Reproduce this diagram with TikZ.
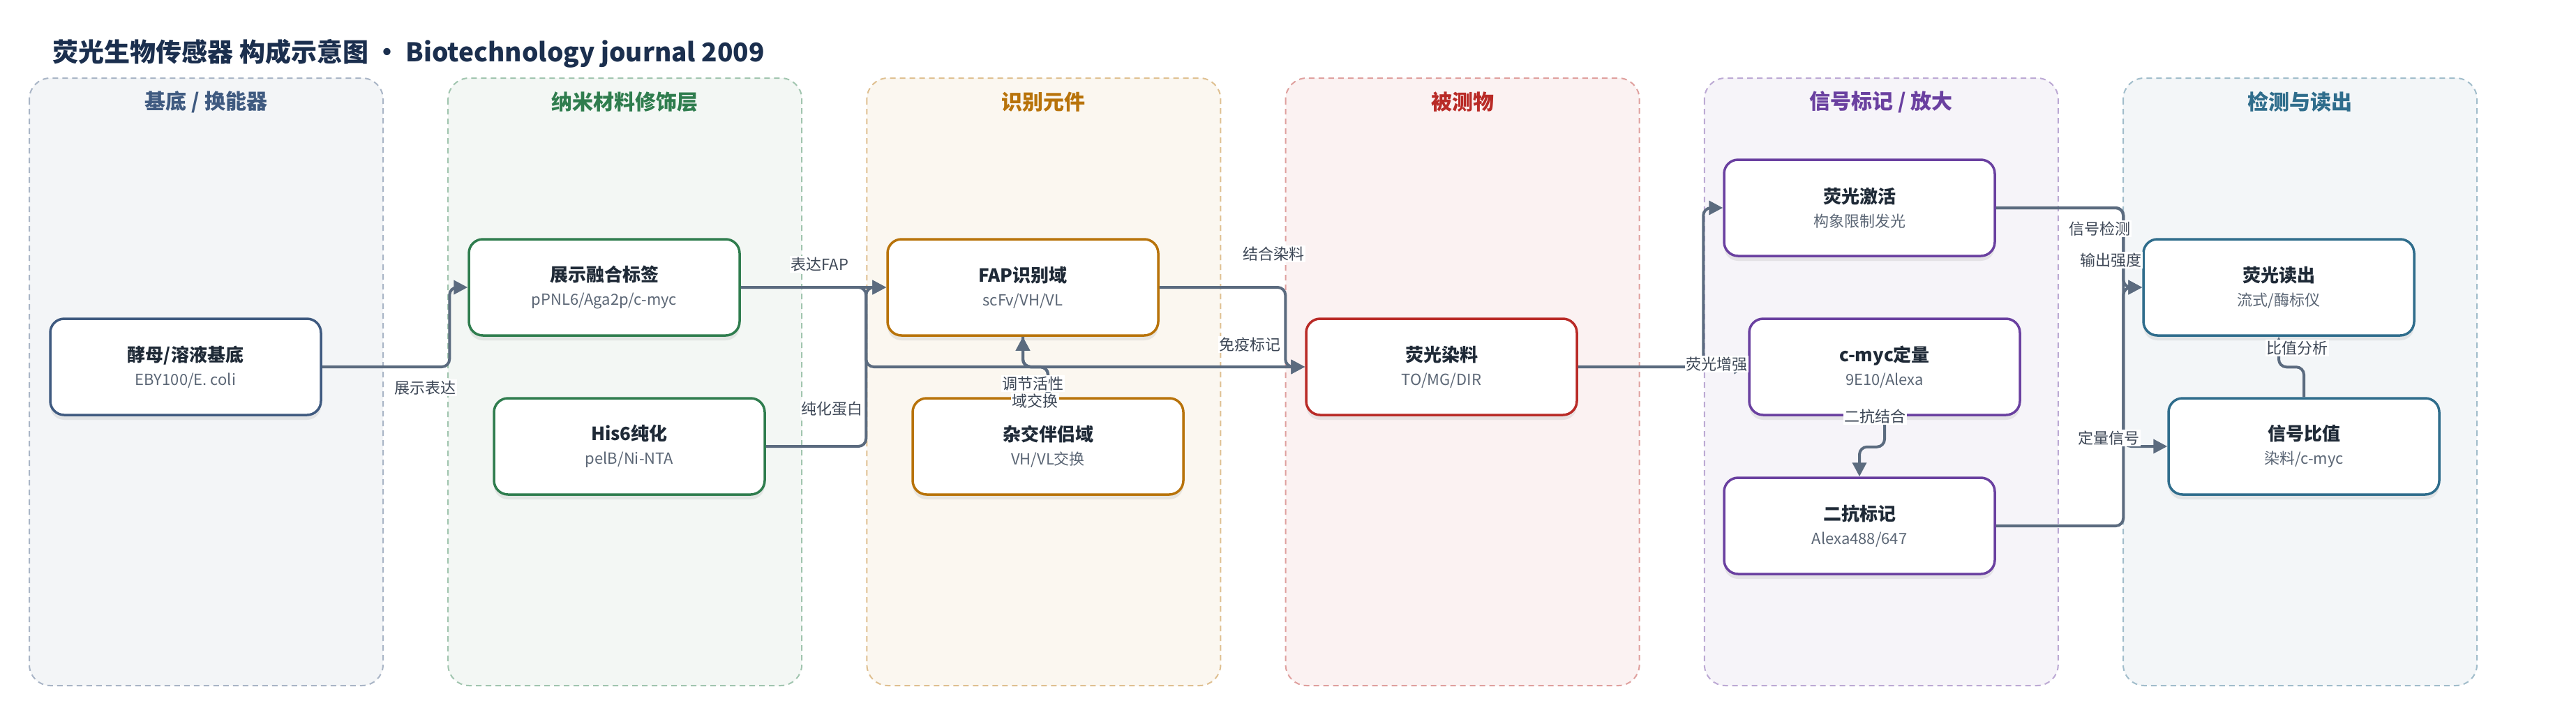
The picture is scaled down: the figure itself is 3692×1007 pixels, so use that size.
\documentclass[tikz,border=0pt]{standalone}
\usepackage{fontspec}
\setmainfont{Noto Sans CJK SC}
\usepackage{tikz}
\usetikzlibrary{positioning, arrows.meta, shadows, calc}
\definecolor{baseC}{HTML}{3F5A80}
\definecolor{nanoC}{HTML}{2F7D4E}
\definecolor{recoC}{HTML}{B8730A}
\definecolor{anaC}{HTML}{B92B27}
\definecolor{sigC}{HTML}{6A40A0}
\definecolor{detC}{HTML}{2F6D8C}
\definecolor{edgeC}{HTML}{5B6B7F}
\definecolor{titleC}{HTML}{1B2F4E}
\definecolor{textC}{HTML}{1F2A37}
\definecolor{subC}{HTML}{5B6675}
\definecolor{labC}{HTML}{3D4756}
\tikzset{
    >={Triangle[length=20pt, width=20pt]}, % filled arrow heads
    node distance=600pt, % one lane to the next
    lane/.style={draw=#1!45, fill=#1!6, line width=2pt, dash pattern=on 8pt off 6pt, rounded corners=30pt}, % lane background
    lanetitle/.style={text=#1, font=\fontsize{30}{36}\selectfont\bfseries}, % lane heading
    box/.style={draw=#1, fill=white, line width=3.5pt, rounded corners=20pt, minimum width=388pt, minimum height=138pt, align=center, text=textC, font=\fontsize{26}{34}\selectfont, drop shadow={shadow xshift=0pt, shadow yshift=-7pt, opacity=.15}}, % component box
    flow/.style={->, draw=edgeC, line width=4pt, rounded corners=11pt}, % connector
    lbl/.style={fill=white, inner sep=1.5pt, text=labC, font=\fontsize{22}{24}\selectfont}, % connector label
}
\begin{document}
\begin{tikzpicture}[x=1pt, y=-1pt]
    \useasboundingbox (0,0) rectangle (3692,1007);
    \fill[white] (0,0) rectangle (3692,1007);
    \node[anchor=west, text=titleC, font=\fontsize{37}{44}\selectfont\bfseries] (title) at (72,77) {荧光生物传感器 构成示意图 • Biotechnology journal 2009};
    % lanes
    \foreach \k/\col/\ttl in {0/baseC/{基底 / 换能器}, 1/nanoC/纳米材料修饰层, 2/recoC/识别元件, 3/anaC/被测物, 4/sigC/{信号标记 / 放大}, 5/detC/检测与读出}{
        \draw[lane=\col] ({42+600.2*\k},112) rectangle ++(507,871);
        \node[lanetitle=\col] (lane\k) at ({295.5+600.2*\k},146) {\ttl};
    }
    % components
    \node[box=baseC] (yeast) at (266,526) {\textbf{酵母/溶液基底}\\{\fontsize{22}{34}\selectfont\color{subC}EBY100/E. coli}};
    \node[box=nanoC] (tag) at (866,412) {\textbf{展示融合标签}\\{\fontsize{22}{34}\selectfont\color{subC}pPNL6/Aga2p/c-myc}};
    \node[box=nanoC] (his) at (902,640) {\textbf{His6纯化}\\{\fontsize{22}{34}\selectfont\color{subC}pelB/Ni-NTA}};
    \node[box=recoC, right of=tag] (fap) {\textbf{FAP识别域}\\{\fontsize{22}{34}\selectfont\color{subC}scFv/VH/VL}};
    \node[box=recoC, right of=his] (hyb) {\textbf{杂交伴侣域}\\{\fontsize{22}{34}\selectfont\color{subC}VH/VL交换}};
    \node[box=anaC] (dye) at (2066,526) {\textbf{荧光染料}\\{\fontsize{22}{34}\selectfont\color{subC}TO/MG/DIR}};
    \node[box=sigC] (act) at (2665,298) {\textbf{荧光激活}\\{\fontsize{22}{34}\selectfont\color{subC}构象限制发光}};
    \node[box=sigC] (myc) at (2701,526) {\textbf{c-myc定量}\\{\fontsize{22}{34}\selectfont\color{subC}9E10/Alexa}};
    \node[box=sigC] (ab2) at (2665,754) {\textbf{二抗标记}\\{\fontsize{22}{34}\selectfont\color{subC}Alexa488/647}};
    \node[box=detC] (read) at (3266,412) {\textbf{荧光读出}\\{\fontsize{22}{34}\selectfont\color{subC}流式/酶标仪}};
    \node[box=detC] (ratio) at (3302,640) {\textbf{信号比值}\\{\fontsize{22}{34}\selectfont\color{subC}染料/c-myc}};
    % connectors
    \draw[flow] (yeast.east) -| ($(tag.west)+(-26,0)$) -- (tag.west);
    \draw[flow] (tag.east) -- (fap.west);
    \draw[flow] (his.east) -| ($(fap.west)+(-29,0)$) -- (fap.west);
    \draw[flow] (tag.east) -| ($(fap.west |- dye.west)+(-29,0)$) -- (dye.west);
    \draw[flow] (fap.east) -| ($(dye.west)+(-28,0)$) -- (dye.west);
    \draw[flow] (hyb.north) -- ++(0,-43) -| (fap.south);
    \draw[flow] (fap.south) -- ++(0,43) -| (hyb.north);
    \draw[flow] (dye.east) -| ($(act.west)+(-28,0)$) -- (act.west);
    \draw[flow] (dye.east) -- (myc.west);
    \draw[flow] (myc.south) -- ++(0,44) -| (ab2.north);
    \draw[flow] (act.east) -| ($(read.west)+(-27,0)$) -- (read.west);
    \draw[flow] (ab2.east) -| ($(read.west)+(-27,0)$) -- (read.west);
    \draw[flow] (act.east) -| ($(read.west |- ratio.west)+(-27,0)$) -- (ratio.west);
    \draw[flow] (ratio.north) -- ++(0,-43) -| (read.south);
    % labels
    \node[lbl] at (609,556) {展示表达};
    \node[lbl] at (1175,379) {表达FAP};
    \node[lbl] at (1192,586) {纯化蛋白};
    \node[lbl] at (1825,364) {结合染料};
    \node[lbl] at (1791,494) {免疫标记};
    \node[lbl] at (1480,550) {调节活性};
    \node[lbl] at (1483,575) {域交换};
    \node[lbl] at (2460,522) {荧光增强};
    \node[lbl] at (2687,597) {二抗结合};
    \node[lbl] at (3009,328) {信号检测};
    \node[lbl] at (3025,373) {输出强度};
    \node[lbl] at (3022,628) {定量信号};
    \node[lbl] at (3292,499) {比值分析};
\end{tikzpicture}
\end{document}
